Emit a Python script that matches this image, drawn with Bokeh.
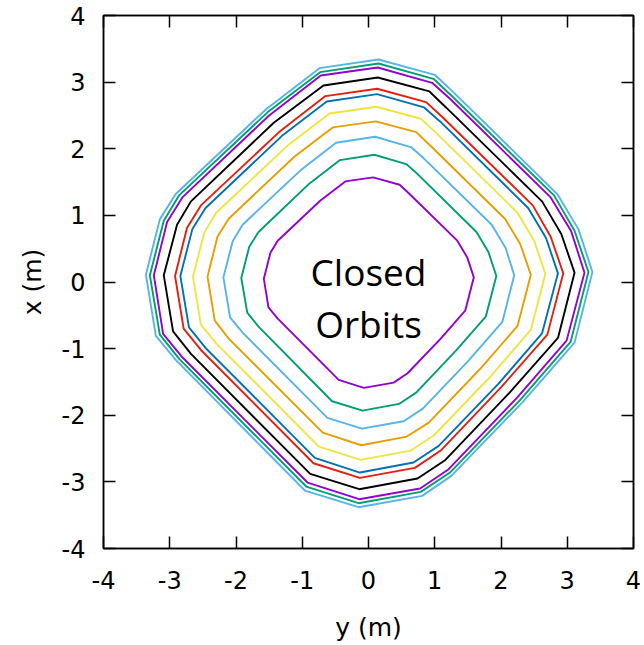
from bokeh.plotting import figure
from bokeh.models import Range1d, LinearAxis, FixedTicker, ColumnDataSource, CustomJSTickFormatter
from bokeh.core.properties import value
from bokeh.embed import file_html
from bokeh.resources import INLINE

# ---- data: closed orbits, horizontal = y (m), vertical = x (m) ----
orbit_01_y = [-0.35, 0.07, 0.47, 0.60, 1.34, 1.49, 1.59, 1.46, 1.09, 0.59, 0.38, -0.07, -0.45, -1.37, -1.51, -1.58, -1.48, -1.37, -0.73]
orbit_01_x = [1.51, 1.57, 1.46, 1.34, 0.62, 0.37, 0.07, -0.43, -0.85, -1.37, -1.51, -1.59, -1.47, -0.55, -0.38, 0.05, 0.44, 0.62, 1.22]

orbit_02_y = [-0.43, 0.09, 0.57, 0.73, 1.63, 1.81, 1.93, 1.77, 1.32, 0.72, 0.46, -0.09, -0.55, -1.66, -1.83, -1.92, -1.80, -1.66, -0.89]
orbit_02_x = [1.83, 1.91, 1.77, 1.63, 0.75, 0.45, 0.09, -0.52, -1.03, -1.66, -1.83, -1.93, -1.79, -0.67, -0.46, 0.06, 0.53, 0.75, 1.48]

orbit_03_y = [-0.49, 0.10, 0.65, 0.83, 1.86, 2.07, 2.20, 2.02, 1.51, 0.82, 0.53, -0.10, -0.62, -1.90, -2.09, -2.19, -2.05, -1.90, -1.01]
orbit_03_x = [2.09, 2.18, 2.02, 1.86, 0.86, 0.51, 0.10, -0.60, -1.18, -1.90, -2.09, -2.20, -2.04, -0.76, -0.53, 0.07, 0.61, 0.86, 1.69]

orbit_04_y = [-0.54, 0.11, 0.72, 0.92, 2.06, 2.29, 2.45, 2.25, 1.68, 0.91, 0.58, -0.11, -0.69, -2.11, -2.32, -2.43, -2.28, -2.11, -1.12]
orbit_04_x = [2.32, 2.41, 2.25, 2.06, 0.95, 0.57, 0.11, -0.66, -1.31, -2.11, -2.32, -2.45, -2.26, -0.85, -0.58, 0.08, 0.68, 0.95, 1.88]

orbit_05_y = [-0.59, 0.12, 0.79, 1.01, 2.25, 2.50, 2.67, 2.45, 1.83, 0.99, 0.64, -0.12, -0.75, -2.30, -2.53, -2.65, -2.48, -2.30, -1.22]
orbit_05_x = [2.53, 2.63, 2.45, 2.25, 1.04, 0.62, 0.12, -0.72, -1.43, -2.30, -2.53, -2.67, -2.47, -0.92, -0.64, 0.08, 0.74, 1.04, 2.05]

orbit_06_y = [-0.63, 0.13, 0.84, 1.08, 2.41, 2.68, 2.86, 2.62, 1.96, 1.06, 0.68, -0.13, -0.81, -2.46, -2.71, -2.84, -2.66, -2.46, -1.31]
orbit_06_x = [2.71, 2.82, 2.62, 2.41, 1.11, 0.66, 0.13, -0.77, -1.53, -2.46, -2.71, -2.86, -2.64, -0.99, -0.68, 0.09, 0.79, 1.11, 2.19]

orbit_07_y = [-0.65, 0.13, 0.87, 1.11, 2.48, 2.75, 2.94, 2.70, 2.01, 1.09, 0.70, -0.13, -0.83, -2.53, -2.79, -2.92, -2.74, -2.53, -1.35]
orbit_07_x = [2.79, 2.90, 2.70, 2.48, 1.15, 0.68, 0.13, -0.79, -1.57, -2.53, -2.79, -2.94, -2.72, -1.02, -0.70, 0.09, 0.81, 1.15, 2.25]

orbit_08_y = [-0.68, 0.14, 0.92, 1.17, 2.62, 2.91, 3.11, 2.86, 2.13, 1.15, 0.74, -0.14, -0.88, -2.68, -2.95, -3.09, -2.89, -2.68, -1.43]
orbit_08_x = [2.95, 3.07, 2.86, 2.62, 1.21, 0.72, 0.14, -0.84, -1.66, -2.68, -2.95, -3.11, -2.88, -1.08, -0.74, 0.10, 0.86, 1.21, 2.39]

orbit_09_y = [-0.72, 0.14, 0.96, 1.23, 2.75, 3.06, 3.26, 2.99, 2.24, 1.21, 0.78, -0.14, -0.92, -2.81, -3.10, -3.24, -3.04, -2.81, -1.50]
orbit_09_x = [3.10, 3.22, 2.99, 2.75, 1.27, 0.76, 0.14, -0.88, -1.74, -2.81, -3.10, -3.26, -3.01, -1.13, -0.78, 0.10, 0.90, 1.27, 2.50]

orbit_10_y = [-0.73, 0.15, 0.98, 1.25, 2.80, 3.11, 3.32, 3.05, 2.28, 1.23, 0.79, -0.15, -0.94, -2.86, -3.15, -3.30, -3.09, -2.86, -1.52]
orbit_10_x = [3.15, 3.28, 3.05, 2.80, 1.30, 0.77, 0.15, -0.90, -1.78, -2.86, -3.15, -3.32, -3.07, -1.15, -0.79, 0.10, 0.92, 1.30, 2.55]

orbit_11_y = [-0.74, 0.15, 1.00, 1.28, 2.85, 3.17, 3.38, 3.11, 2.32, 1.25, 0.81, -0.15, -0.96, -2.91, -3.21, -3.36, -3.15, -2.91, -1.55]
orbit_11_x = [3.21, 3.34, 3.11, 2.85, 1.32, 0.79, 0.15, -0.91, -1.81, -2.91, -3.21, -3.38, -3.13, -1.17, -0.81, 0.11, 0.94, 1.32, 2.59]

orbit_colors = ["#9400D3", "#009E73", "#56B4E9", "#E69F00", "#F0E442", "#0072B2",
                "#E51E10", "#000000", "#9400D3", "#009E73", "#56B4E9"]

axis_ticks = [-4, -3, -2, -1, 0, 1, 2, 3, 4]
tick_labels = ["-4", "-3", "-2", "-1", "0", "1", "2", "3", "4"]
label_lines = ["Closed", "Orbits"]
label_y = [0.0, 0.0]
label_x = [0.16, -0.62]

orbits = [
    (orbit_01_y, orbit_01_x), (orbit_02_y, orbit_02_x), (orbit_03_y, orbit_03_x),
    (orbit_04_y, orbit_04_x), (orbit_05_y, orbit_05_x), (orbit_06_y, orbit_06_x),
    (orbit_07_y, orbit_07_x), (orbit_08_y, orbit_08_x), (orbit_09_y, orbit_09_x),
    (orbit_10_y, orbit_10_x), (orbit_11_y, orbit_11_x),
]

p = figure(width=644, height=645, output_backend="svg", toolbar_location=None,
           x_range=Range1d(-4, 4), y_range=Range1d(-4, 4),
           x_axis_label="y (m)", y_axis_label="x (m)",
           min_border_left=103, min_border_right=11, min_border_top=15, min_border_bottom=97)
p.grid.visible = False
p.outline_line_color = "black"
p.outline_line_width = 1.5
p.background_fill_color = "white"
p.border_fill_color = "white"

for (ys, xs), col in zip(orbits, orbit_colors):
    p.patch(ys, xs, fill_alpha=0, line_color=col, line_width=1.9)

src = ColumnDataSource(dict(y=label_y, x=label_x, t=label_lines))
p.text(x="y", y="x", text="t", source=src, text_font=value("Open Sans"),
       text_font_size="37px", text_align="center", text_baseline="middle",
       text_color="black")

p.add_layout(LinearAxis(), "above")
p.add_layout(LinearAxis(), "right")

for ax in p.axis:
    ax.ticker = FixedTicker(ticks=axis_ticks)
    ax.major_tick_in = 12
    ax.major_tick_out = 0
    ax.minor_tick_in = 0
    ax.minor_tick_out = 0
    ax.axis_line_width = 1.5
    ax.axis_line_color = "black"
    ax.major_tick_line_width = 1.5
    ax.major_tick_line_color = "black"
    ax.major_label_text_font = "DejaVu Sans"
    ax.major_label_text_font_size = "24px"
    ax.major_label_text_color = "black"
    ax.axis_label_text_font = "DejaVu Sans"
    ax.axis_label_text_font_size = "25px"
    ax.axis_label_text_font_style = "normal"
    ax.axis_label_text_color = "black"

for ax in p.below + p.left:
    ax.major_label_overrides = {t: s for t, s in zip(axis_ticks, tick_labels)}

for ax in p.above + p.right:
    ax.formatter = CustomJSTickFormatter(code="return '';")
    ax.major_label_standoff = 0

for ax in p.below:
    ax.major_label_standoff = 22
    ax.axis_label_standoff = 21
for ax in p.left:
    ax.major_label_standoff = 18
    ax.axis_label_standoff = 12

open("out.html", "w").write(file_html(p, INLINE))
